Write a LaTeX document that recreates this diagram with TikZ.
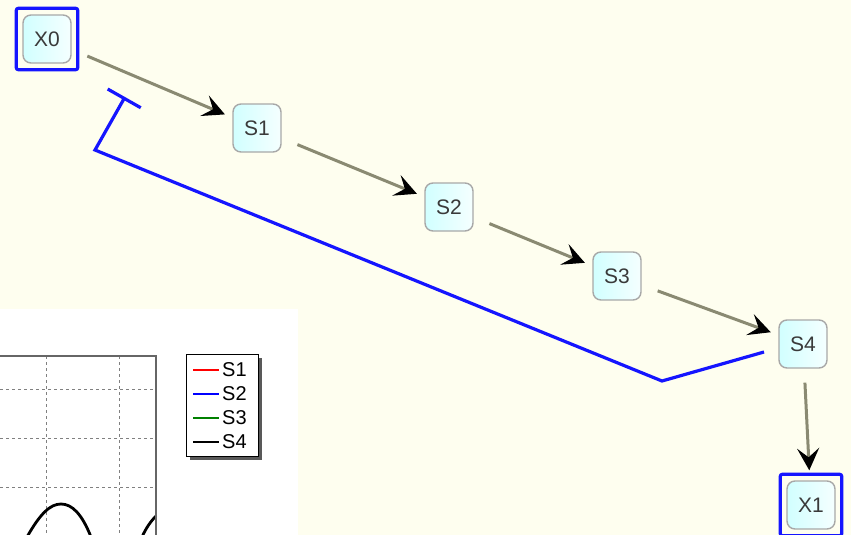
\documentclass[tikz,border=0pt]{standalone}
\usepackage{fontspec}
\setmainfont{Liberation Sans}
\usetikzlibrary{arrows.meta,fit}
\definecolor{bgivory}{HTML}{FEFEEF}
\definecolor{edgeolive}{HTML}{8A8A72}
\definecolor{inhblue}{HTML}{1515FF}
\definecolor{boxline}{HTML}{A8A8A8}
\definecolor{txtgray}{HTML}{3A3A3A}
\tikzset{
  species/.style={draw=boxline, line width=1.4pt, rounded corners=8pt,
    left color=cyan!18, right color=cyan!4,
    minimum width=48pt, minimum height=48pt, inner sep=0pt,
    text=txtgray, font=\fontsize{21}{21}\selectfont},
  frame/.style={draw=inhblue, line width=3.2pt, rounded corners=2pt, inner sep=6pt},
  react/.style={draw=edgeolive, line width=3pt,
    -{Stealth[length=22pt,width=22pt,inset=9pt,black]},
    shorten <=17pt, shorten >=8pt},
  inhibit/.style={draw=inhblue, line width=3.2pt, -{Bar[width=38pt,line width=3.2pt]}},
  grid line/.style={draw=gray, dashed, line width=1pt},
  legend text/.style={font=\fontsize{20}{20}\selectfont, text=black, anchor=west, inner sep=0pt}
}
\begin{document}
\begin{tikzpicture}[x=1pt,y=-1pt]
  % canvas
  \fill[bgivory] (0,0) rectangle (851,535);
  \useasboundingbox (0,0) rectangle (851,535);

  % plot panel
  \fill[white] (0,309) rectangle (298,535);
  \begin{scope}
    \clip (0,309) rectangle (298,535);
    \draw[grid line] (46,356) -- (46,535);
    \draw[grid line] (119,356) -- (119,535);
    \draw[grid line] (0,389) -- (156,389);
    \draw[grid line] (0,438) -- (156,438);
    \draw[grid line] (0,487) -- (156,487);
    \draw[black, line width=2.8pt] (27,537) .. controls (40,514) and (50,504) .. (61,504)
      .. controls (72,504) and (82,514) .. (91,537);
    \draw[black, line width=2.8pt] (142,537) .. controls (146,528) and (151,521) .. (156,516);
    \draw[gray!80!black, line width=1.5pt] (-2,356) -- (156,356) -- (156,537);
    % legend
    \fill[gray!70!black] (190,358) rectangle (262,460);
    \node[draw=black, fill=white, line width=1pt, minimum width=72pt, minimum height=102pt,
      inner sep=0pt, anchor=north west] (legend) at (186,354) {};
    \draw[red, line width=2.8pt] (193,370) -- (219,370);
    \node[legend text] (l1) at (222,370) {S1};
    \draw[blue, line width=2.8pt] (193,394) -- (219,394);
    \node[legend text] (l2) at (222,394) {S2};
    \draw[green!50!black, line width=2.8pt] (193,418) -- (219,418);
    \node[legend text] (l3) at (222,418) {S3};
    \draw[black, line width=2.8pt] (193,442) -- (219,442);
    \node[legend text] (l4) at (222,442) {S4};
  \end{scope}

  % species
  \node[species] (X0) at (47,39) {X0};
  \node[frame, fit=(X0)] (X0f) {};
  \node[species] (S1) at (257,128) {S1};
  \node[species] (S2) at (449,207) {S2};
  \node[species] (S3) at (617,276) {S3};
  \node[species] (S4) at (803,344) {S4};
  \node[species] (X1) at (811,505) {X1};
  \node[frame, fit=(X1)] (X1f) {};

  % reaction chain
  \draw[react] (X0) -- (S1);
  \draw[react] (S1) -- (S2);
  \draw[react] (S2) -- (S3);
  \draw[react] (S3) -- (S4);
  \draw[react, shorten <=14pt, shorten >=10pt] (S4) -- (X1);

  % negative feedback from S4 to X0
  \coordinate (fbA) at (764,352);
  \coordinate (fbB) at (662,381);
  \coordinate (fbC) at (95,150);
  \coordinate (fbD) at (125,97);
  \draw[inhibit] (fbA) -- (fbB) -- (fbC) -- (fbD);
\end{tikzpicture}
\end{document}
